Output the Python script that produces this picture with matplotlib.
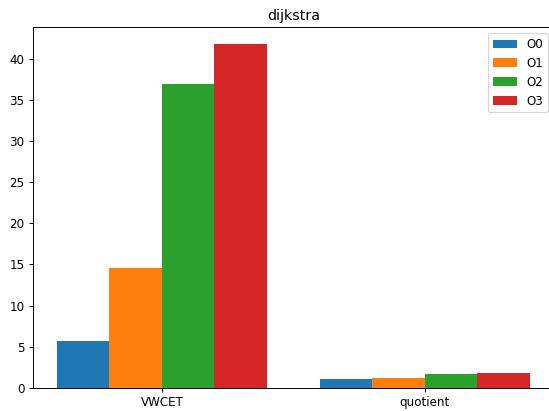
"""Grouped bar chart of dijkstra VWCET and quotient per optimisation level."""

import matplotlib

matplotlib.use("Agg")
import matplotlib.pyplot as plt
import numpy as np

categories = ["VWCET", "quotient"]
levels = ["O0", "O1", "O2", "O3"]
o0 = [5.67, 1.06]
o1 = [14.58, 1.18]
o2 = [36.88, 1.66]
o3 = [41.73, 1.78]

DPI = 85.78


def main() -> None:
    # the original looks like a default 640x480 figure shrunk to 549x411
    fig = plt.figure(figsize=(549 / DPI, 411 / DPI), dpi=DPI)
    # axes runs slightly past the right edge, as in the cropped original
    ax = fig.add_axes([0.0601, 0.056, 0.9485, 0.878])

    x = np.arange(len(categories))
    width = 0.2
    for i, (label, values) in enumerate(zip(levels, [o0, o1, o2, o3])):
        ax.bar(x + (i - 1.5) * width, values, width, label=label)

    ax.set_xticks(x)
    ax.set_xticklabels(categories)
    ax.set_title("dijkstra")
    ax.legend(loc="upper right")

    fig.savefig("out.png", dpi=DPI)
    plt.close(fig)


if __name__ == "__main__":
    main()
